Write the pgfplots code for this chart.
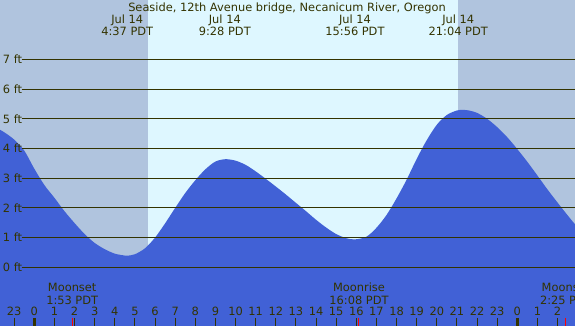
\documentclass[border=0pt]{standalone}
\usepackage{fontspec}
\setmainfont{DejaVu Sans}
\usepackage{pgfplots}
\pgfplotsset{compat=1.18}
\definecolor{night}{RGB}{176,196,222}
\definecolor{day}{RGB}{222,247,255}
\definecolor{tide}{RGB}{65,97,214}
\definecolor{olivec}{RGB}{51,51,0}
\begin{document}
\begin{tikzpicture}[font=\fontsize{11.4bp}{13bp}\selectfont]
\path[use as bounding box] (0,0) rectangle (575bp,326bp);
\clip (0,0) rectangle (575bp,326bp);
\begin{axis}[
  at={(0,0)}, anchor=south west,
  scale only axis, width=575bp, height=326bp,
  xmin=-1.704, xmax=26.867, ymin=-1.976, ymax=9.0,
  axis on top,
  axis line style={draw=none},
  axis background/.style={fill=night},
  xtick={-2,...,26},
  xticklabels={22,23,0,1,2,3,4,5,6,7,8,9,10,11,12,13,14,15,16,17,18,19,20,21,22,23,0,1,2},
  xtick pos=left, ytick pos=left,
  major tick length=0pt,
  tick style={draw=none},
  xticklabel style={anchor=base, yshift=10.3bp, text=olivec, font=\fontsize{11.4bp}{13bp}\selectfont},
  ytick={0,...,7},
  yticklabels={0 ft,1 ft,2 ft,3 ft,4 ft,5 ft,6 ft,7 ft},
  yticklabel style={anchor=west, inner sep=0pt, xshift=2.7bp, text=olivec, font=\fontsize{11.4bp}{13bp}\selectfont},
  clip=true,
]
% daylight
\addplot[draw=none, fill=day] coordinates {(5.65,-3) (5.65,10) (21.05,10) (21.05,-3)} -- cycle;
% tide
\addplot[draw=none, fill=tide, smooth] coordinates {
(-1.9,4.70) (-1.5,4.55) (-1.0,4.30) (-0.5,3.93) (0.0,3.32) (0.5,2.77)
(1.0,2.34) (1.5,1.89) (2.0,1.49) (2.5,1.12) (3.0,0.82) (3.5,0.61)
(4.0,0.46) (4.5,0.395) (4.617,0.39) (5.0,0.44) (5.5,0.64) (6.0,1.0)
(6.5,1.48) (7.0,2.0) (7.5,2.5) (8.0,2.93) (8.5,3.30) (9.0,3.56)
(9.5,3.64) (10.0,3.59) (10.5,3.45) (11.0,3.23) (11.5,2.98) (12.0,2.72)
(12.5,2.45) (13.0,2.17) (13.5,1.89) (14.0,1.60) (14.5,1.34) (15.0,1.12)
(15.5,0.98) (15.93,0.94) (16.5,1.03) (17.0,1.33) (17.5,1.76) (18.0,2.32)
(18.5,2.95) (19.0,3.65) (19.5,4.28) (20.0,4.80) (20.5,5.13) (21.0,5.28)
(21.3,5.30) (21.6,5.28) (22.0,5.20) (22.5,5.00) (23.0,4.72) (23.5,4.38)
(24.0,3.98) (24.5,3.55) (25.0,3.09) (25.5,2.62) (26.0,2.18) (26.5,1.75) (27.0,1.34)
} |- (axis cs:-1.9,-3) -- cycle;
% level lines
\pgfplotsinvokeforeach{0,...,7}{
  \addplot[olivec, line width=1bp] coordinates {(-0.626,#1) (27.2,#1)};
}
% hour ticks
\addplot[only marks, mark=|, mark size=4bp, olivec, line width=1bp] coordinates {
(-2,-1.841) (-1,-1.841) (1,-1.841) (2,-1.841) (3,-1.841) (4,-1.841) (5,-1.841)
(6,-1.841) (7,-1.841) (8,-1.841) (9,-1.841) (10,-1.841) (11,-1.841) (12,-1.841)
(13,-1.841) (14,-1.841) (15,-1.841) (16,-1.841) (17,-1.841) (18,-1.841) (19,-1.841)
(20,-1.841) (21,-1.841) (22,-1.841) (23,-1.841) (25,-1.841) (26,-1.841)};
\addplot[only marks, mark=|, mark size=4bp, olivec, line width=3bp] coordinates {(0,-1.841) (24,-1.841)};
\addplot[only marks, mark=|, mark size=4bp, red, line width=1bp] coordinates {(1.883,-1.841) (16.133,-1.841) (26.417,-1.841)};
% texts
\node[anchor=base, text=olivec] at (axis cs:12.557,8.596) {Seaside, 12th Avenue bridge, Necanicum River, Oregon};
\node[anchor=base, text=olivec] at (axis cs:4.617,8.192) {Jul 14};
\node[anchor=base, text=olivec] at (axis cs:4.617,7.788) {4:37 PDT};
\node[anchor=base, text=olivec] at (axis cs:9.467,8.192) {Jul 14};
\node[anchor=base, text=olivec] at (axis cs:9.467,7.788) {9:28 PDT};
\node[anchor=base, text=olivec] at (axis cs:15.933,8.192) {Jul 14};
\node[anchor=base, text=olivec] at (axis cs:15.933,7.788) {15:56 PDT};
\node[anchor=base, text=olivec] at (axis cs:21.067,8.192) {Jul 14};
\node[anchor=base, text=olivec] at (axis cs:21.067,7.788) {21:04 PDT};
\node[anchor=base, text=olivec] at (axis cs:1.883,-0.822) {Moonset};
\node[anchor=base, text=olivec] at (axis cs:1.883,-1.236) {1:53 PDT};
\node[anchor=base, text=olivec] at (axis cs:16.133,-0.822) {Moonrise};
\node[anchor=base, text=olivec] at (axis cs:16.133,-1.236) {16:08 PDT};
\node[anchor=base, text=olivec] at (axis cs:26.417,-0.822) {Moonset};
\node[anchor=base, text=olivec] at (axis cs:26.417,-1.236) {2:25 PDT};
\end{axis}
\end{tikzpicture}
\end{document}
